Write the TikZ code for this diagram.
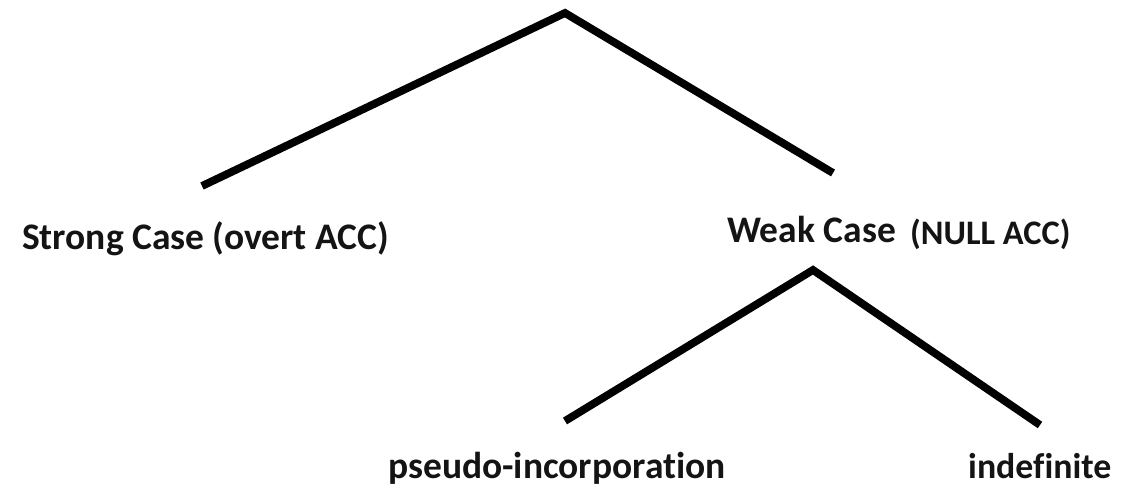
\documentclass[tikz,border=0pt]{standalone}
\usepackage{fontspec}
\setmainfont{Carlito}[Ligatures=NoCommon]
\begin{document}
\begin{tikzpicture}[x=1pt,y=-1pt,
  branch/.style={line width=7.8pt,line cap=butt,line join=miter,color=black},
  label/.style={anchor=base west,inner sep=0pt,font=\bfseries\fontsize{37.5}{42}\selectfont,text=black!92}]
  \useasboundingbox (0,0) rectangle (1128,486);
  % upper tree
  \coordinate (top) at (565,13);
  \coordinate (topL) at (202,186);
  \coordinate (topR) at (833,173);
  \draw[branch] (topL) -- (top) -- (topR);
  % lower tree
  \coordinate (weak) at (813,270);
  \coordinate (weakL) at (565,421);
  \coordinate (weakR) at (1040,425);
  \draw[branch] (weakL) -- (weak) -- (weakR);
  % labels
  \node[label] (strong) at (22,250) {Strong Case (overt ACC)};
  \node[label] (weaklbl) at (727,243) {Weak Case};
  \node[label,font=\bfseries\fontsize{34.4}{40}\selectfont] (null) at (910,245) {(NULL ACC)};
  \node[label] (pseudo) at (388,478) {pseudo-incorporation};
  \node[label,font=\bfseries\fontsize{35.8}{40}\selectfont] (indef) at (968,478) {indefinite};
\end{tikzpicture}
\end{document}
